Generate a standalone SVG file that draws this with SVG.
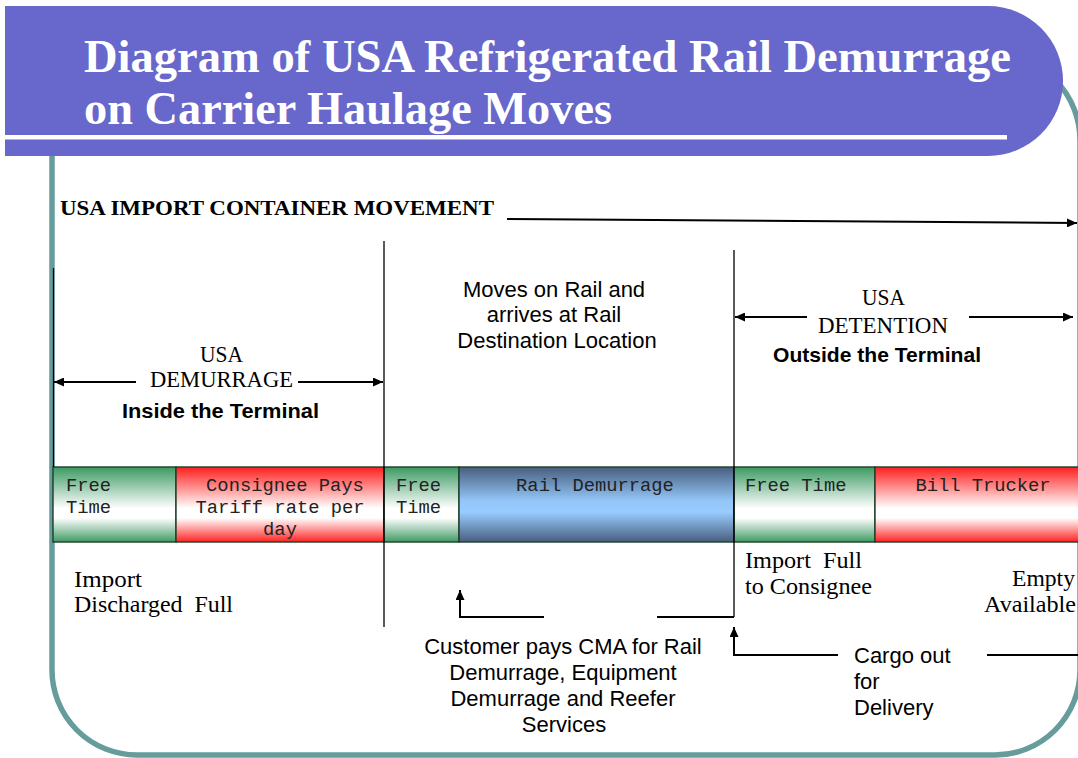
<svg xmlns="http://www.w3.org/2000/svg" width="1078" height="758" viewBox="0 0 1078 758">
<defs>
<linearGradient id="gGreen" x1="0" y1="0" x2="0" y2="1">
<stop offset="0" stop-color="#3C9A62"/><stop offset="0.55" stop-color="#FFFFFF"/><stop offset="0.68" stop-color="#FFFFFF"/><stop offset="1" stop-color="#3F9A64"/>
</linearGradient>
<linearGradient id="gRed" x1="0" y1="0" x2="0" y2="1">
<stop offset="0" stop-color="#FF1F1F"/><stop offset="0.55" stop-color="#FFFFFF"/><stop offset="0.68" stop-color="#FFFFFF"/><stop offset="1" stop-color="#FF2222"/>
</linearGradient>
<linearGradient id="gBlue" x1="0" y1="0" x2="0" y2="1">
<stop offset="0" stop-color="#485E7E"/><stop offset="0.45" stop-color="#93C6F8"/><stop offset="0.6" stop-color="#99CCFF"/><stop offset="1" stop-color="#485E7E"/>
</linearGradient>
<marker id="arr" markerUnits="userSpaceOnUse" markerWidth="11" markerHeight="9" refX="10" refY="4.5" orient="auto">
<path d="M0,0 L10,4.5 L0,9 z" fill="#000"/>
</marker>
<style>
.title{font-family:"Liberation Serif",serif;font-weight:bold;font-size:46px;fill:#fff}
.hdr{font-family:"Liberation Serif",serif;font-weight:bold;font-size:22px;fill:#000}
.serif{font-family:"Liberation Serif",serif;font-size:22.5px;fill:#000}
.sans{font-family:"Liberation Sans",Arial,sans-serif;font-size:22px;fill:#000}
.sansb{font-family:"Liberation Sans",Arial,sans-serif;font-weight:bold;font-size:20.5px;fill:#000}
.mono{font-family:"Liberation Mono","Courier New",monospace;font-size:18.8px;fill:#222}
.cell{stroke:#1E3E28;stroke-width:1.4}
.ln{stroke:#000;stroke-width:2;fill:none}
.div{stroke:#000;stroke-width:1.3;fill:none}
</style>
</defs>
<rect x="52" y="55" width="1028" height="700" rx="85" ry="85" fill="none" stroke="#669C9C" stroke-width="5.5"/>
<g id="header">
<path d="M5,6 H988 A75,75 0 0 1 988,156 H5 Z" fill="#6767CC"/>
<rect x="5" y="135" width="1002" height="4.5" fill="#fff"/>
<text class="title" x="84" y="72" textLength="927" lengthAdjust="spacingAndGlyphs">Diagram of USA Refrigerated Rail Demurrage</text>
<text class="title" x="84" y="124" textLength="528" lengthAdjust="spacingAndGlyphs">on Carrier Haulage Moves</text>
</g>
<g id="movement-label">
<text class="hdr" x="60" y="215" textLength="434" lengthAdjust="spacingAndGlyphs">USA IMPORT CONTAINER MOVEMENT</text>
</g>
<g id="bar">
<g id="cell-free1"><rect class="cell" x="53" y="467" width="123" height="75" fill="url(#gGreen)"/>
<text class="mono" x="66" y="491">Free</text><text class="mono" x="66" y="513">Time</text></g>
<g id="cell-consignee"><rect class="cell" x="176" y="467" width="208" height="75" fill="url(#gRed)"/>
<text class="mono" x="285" y="491" text-anchor="middle">Consignee Pays</text><text class="mono" x="280" y="513" text-anchor="middle">Tariff rate per</text><text class="mono" x="280" y="535" text-anchor="middle">day</text></g>
<g id="cell-free2"><rect class="cell" x="384" y="467" width="75" height="75" fill="url(#gGreen)"/>
<text class="mono" x="396" y="491">Free</text><text class="mono" x="396" y="513">Time</text></g>
<g id="cell-rail"><rect class="cell" x="459" y="467" width="275" height="75" fill="url(#gBlue)"/>
<text class="mono" x="595" y="491" text-anchor="middle">Rail Demurrage</text></g>
<g id="cell-free3"><rect class="cell" x="734" y="467" width="141" height="75" fill="url(#gGreen)"/>
<text class="mono" x="745" y="491">Free Time</text></g>
<g id="cell-trucker"><rect class="cell" x="875" y="467" width="210" height="75" fill="url(#gRed)"/>
<text class="mono" x="983" y="491" text-anchor="middle">Bill Trucker</text></g>
</g>
<g id="demurrage-label">
<text class="serif" x="200" y="362" textLength="43" lengthAdjust="spacingAndGlyphs">USA</text>
<text class="serif" x="150" y="387" textLength="143" lengthAdjust="spacingAndGlyphs">DEMURRAGE</text>
<text class="sansb" x="122" y="418" textLength="197" lengthAdjust="spacingAndGlyphs">Inside the Terminal</text>
</g>
<g id="detention-label">
<text class="serif" x="862" y="305" textLength="43" lengthAdjust="spacingAndGlyphs">USA</text>
<text class="serif" x="818" y="333" textLength="130" lengthAdjust="spacingAndGlyphs">DETENTION</text>
<text class="sansb" x="773" y="362" textLength="208" lengthAdjust="spacingAndGlyphs">Outside the Terminal</text>
</g>
<g id="rail-label">
<text class="sans" x="554" y="297" text-anchor="middle">Moves on Rail and</text>
<text class="sans" x="554" y="322" text-anchor="middle">arrives at Rail</text>
<text class="sans" x="557" y="348" text-anchor="middle">Destination Location</text>
</g>
<g id="import-discharged">
<text class="serif" x="74" y="587" textLength="68" lengthAdjust="spacingAndGlyphs">Import</text>
<text class="serif" x="74" y="612" textLength="159" lengthAdjust="spacingAndGlyphs" xml:space="preserve">Discharged  Full</text>
</g>
<g id="import-full">
<text class="serif" x="745" y="568" textLength="117" lengthAdjust="spacingAndGlyphs" xml:space="preserve">Import  Full</text>
<text class="serif" x="745" y="594" textLength="127" lengthAdjust="spacingAndGlyphs">to Consignee</text>
</g>
<g id="empty-available">
<text class="serif" x="1012" y="586" textLength="63" lengthAdjust="spacingAndGlyphs">Empty</text>
<text class="serif" x="984" y="612" textLength="92" lengthAdjust="spacingAndGlyphs">Available</text>
</g>
<g id="customer-pays">
<text class="sans" x="563" y="654" text-anchor="middle">Customer pays CMA for Rail</text>
<text class="sans" x="563" y="680" text-anchor="middle">Demurrage, Equipment</text>
<text class="sans" x="563" y="706" text-anchor="middle">Demurrage and Reefer</text>
<text class="sans" x="564" y="732" text-anchor="middle">Services</text>
</g>
<g id="cargo-out">
<text class="sans" x="854" y="663">Cargo out</text>
<text class="sans" x="854" y="689">for</text>
<text class="sans" x="854" y="715">Delivery</text>
</g>
<g id="connectors">
<line class="ln" x1="507" y1="219" x2="1077" y2="223" marker-end="url(#arr)"/>
<line class="div" x1="53.5" y1="268" x2="53.5" y2="467"/>
<line class="div" x1="384" y1="241" x2="384" y2="627"/>
<line class="div" x1="734" y1="250" x2="734" y2="617"/>
<line class="ln" x1="136" y1="382" x2="54" y2="382" marker-end="url(#arr)"/>
<line class="ln" x1="298" y1="382" x2="383" y2="382" marker-end="url(#arr)"/>
<line class="ln" x1="807" y1="317" x2="735" y2="317" marker-end="url(#arr)"/>
<line class="ln" x1="969" y1="317" x2="1073" y2="317" marker-end="url(#arr)"/>
<path class="ln" d="M544,617 H460 V590" marker-end="url(#arr)"/>
<line class="ln" x1="657" y1="617" x2="734" y2="617"/>
<path class="ln" d="M838,655 H734 V627" marker-end="url(#arr)"/>
<line class="ln" x1="987" y1="655" x2="1078" y2="655"/>
</g>
</svg>
